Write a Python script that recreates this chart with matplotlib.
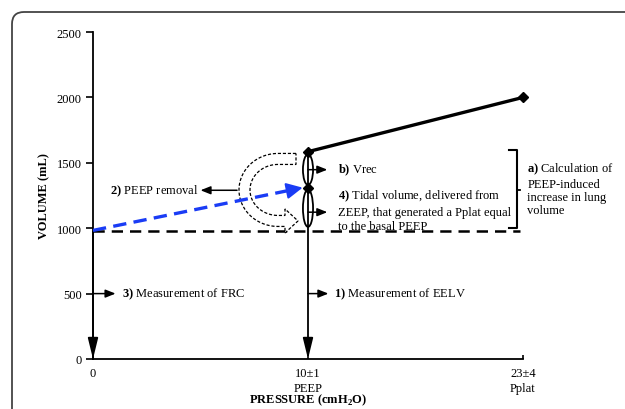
import numpy as np
import matplotlib.pyplot as plt
from matplotlib.patches import Ellipse, Polygon, FancyBboxPatch
from matplotlib.transforms import IdentityTransform

plt.rcParams['font.family'] = ['Liberation Serif', 'DejaVu Serif']
plt.rcParams['mathtext.fontset'] = 'custom'
plt.rcParams['mathtext.rm'] = 'Liberation Serif'
plt.rcParams['mathtext.bf'] = 'Liberation Serif:bold'

# data
pressure_labels = ["0", "10\u00b11\nPEEP", "23\u00b14\nPplat"]
pressure_pos = [0, 1, 2]
frc = 975          # volume at ZEEP
eelv = 1310        # end of tidal volume from ZEEP
peep_vol = 1585    # volume at PEEP
pplat_vol = 2000   # volume at Pplat
measure_level = 500
y_ticks = [0, 500, 1000, 1500, 2000, 2500]

BLUE = "#1a3cf5"

fig = plt.figure(figsize=(6.25, 4.1), dpi=100)
ax = fig.add_axes([93/625, 1-360/410, 430/625, 327/410])
ax.set_xlim(0, 2)
ax.set_ylim(0, 2500)

# PEEP -> Pplat line
ax.plot(pressure_pos[1:], [peep_vol, pplat_vol], color="black", lw=2.4,
        marker="D", ms=5, zorder=4, clip_on=False)
ax.plot([pressure_pos[1]], [eelv], marker="D", ms=5, color="black", zorder=4)

# FRC dashed line
ax.plot([0, 1.985], [frc, frc], color="black", lw=1.8, ls=(0, (4.5, 2.8)))

# vertical lines with arrows down
for x0, ytop in [(pressure_pos[0], frc), (pressure_pos[1], peep_vol)]:
    ax.annotate("", xy=(x0, 0), xytext=(x0, ytop),
                arrowprops=dict(arrowstyle="-|>,head_length=0.9,head_width=0.22",
                                color="black", lw=1.3, mutation_scale=14,
                                shrinkA=0, shrinkB=0))

# ellipses at PEEP
up_c = (eelv + peep_vol) / 2
lo_c = (frc + eelv) / 2
ax.add_patch(Ellipse((1, up_c), 0.047, (peep_vol - eelv) * 0.85, fill=False,
                     ec="black", lw=1.3, zorder=3))
ax.add_patch(Ellipse((1, lo_c + 10), 0.047, (eelv - frc) * 0.85, fill=False,
                     ec="black", lw=1.3, zorder=3))

small = dict(arrowstyle="-|>,head_length=0.5,head_width=0.2", color="black",
             lw=1.1, mutation_scale=12, shrinkA=0, shrinkB=0)
ax.annotate("", xy=(1.09, up_c), xytext=(1.0, up_c), arrowprops=small)
ax.annotate("", xy=(1.09, lo_c - 20), xytext=(1.0, lo_c - 20), arrowprops=small)
ax.annotate("", xy=(0.105, measure_level), xytext=(0, measure_level), arrowprops=small)
ax.annotate("", xy=(1.095, measure_level), xytext=(1.0, measure_level), arrowprops=small)
ax.annotate("", xy=(0.5, 1290), xytext=(0.67, 1290), arrowprops=small)

# blue dashed arrow (PEEP removal)
t = 0.92
ax.plot([0, t], [frc + 8, frc + 8 + (eelv - frc - 8) * t / 0.975],
        color=BLUE, lw=2.4, ls=(0, (4, 2.2)), zorder=5)
ax.annotate("", xy=(0.975, eelv), xytext=(0.9, frc + 8 + (eelv - frc - 8) * 0.9 / 0.975),
            arrowprops=dict(arrowstyle="-|>,head_length=0.7,head_width=0.35",
                            color=BLUE, lw=1.5, mutation_scale=14,
                            shrinkA=0, shrinkB=0), zorder=5)

# curved hollow dashed arrow (built in pixels around a point left of PEEP)
fig.canvas.draw()
cx, cy = ax.transData.transform((1, (eelv + frc) / 2 + 150))
cx -= 30
rxo, ryo, rxi, ryi = 39, 36.5, 28, 25.5
tail_end = cx + 18
head_base = cx + 7
tip = cx + 20
ang = np.linspace(np.pi / 2, 3 * np.pi / 2, 60)
outer = np.column_stack([cx + rxo * np.cos(ang), cy + ryo * np.sin(ang)])
inner = np.column_stack([cx + rxi * np.cos(ang[::-1]), cy + ryi * np.sin(ang[::-1])])
ymid = cy - (ryo + ryi) / 2
pts = np.vstack([
    [[tail_end, cy + ryo]],
    outer,
    [[head_base, cy - ryo], [head_base, ymid - 12], [tip, ymid],
     [head_base, ymid + 12], [head_base, cy - ryi]],
    inner,
    [[tail_end, cy + ryi]],
])
ax.add_patch(Polygon(pts, closed=True, transform=IdentityTransform(),
                     fc="white", ec="black", lw=0.9, ls=(0, (2.5, 1.5)), zorder=2))

# bracket
bx = 1.972
ax.plot([bx - 0.035, bx, bx, bx - 0.035], [peep_vol + 10, peep_vol + 10, 1000, 1000],
        color="black", lw=1.5)
ax.plot([bx, bx + 0.015], [1292, 1292], color="black", lw=1.3)

# texts
fs = 9
ax.text(1.14, up_c, r"$\mathbf{b)}$ Vrec", fontsize=fs, va="center")
ax.text(1.14, 1139, r"$\mathbf{4)}$ Tidal volume, delivered from" "\n"
        "ZEEP, that generated a Pplat equal\nto the basal PEEP",
        fontsize=fs, va="center", linespacing=1.25)
ax.text(0.08, 1290, r"$\mathbf{2)}$ PEEP removal", fontsize=fs, va="center")
ax.text(0.135, measure_level, r"$\mathbf{3)}$ Measurement of FRC", fontsize=fs, va="center")
ax.text(1.12, measure_level, r"$\mathbf{1)}$ Measurement of EELV", fontsize=fs, va="center")
ax.text(2.02, 1303, r"$\mathbf{a)}$ Calculation of" "\nPEEP-induced\nincrease in lung\nvolume",
        fontsize=fs, va="center", linespacing=1.15)

# axes style
for s in ["top", "right"]:
    ax.spines[s].set_visible(False)
for s in ["left", "bottom"]:
    ax.spines[s].set_linewidth(1.3)
ax.set_yticks(y_ticks)
ax.set_xticks(pressure_pos)
ax.set_xticklabels(pressure_labels, fontsize=9, linespacing=1.3)
ax.tick_params(axis="y", direction="out", length=5, width=1.2, labelsize=9, pad=3)
ax.tick_params(axis="x", direction="in", length=3, width=1.2, pad=6)
ax.set_ylabel("VOLUME (mL)", fontsize=9, fontweight="bold", labelpad=5)
ax.set_xlabel(r"PRESSURE (cmH$_\mathbf{2}$O)", fontsize=9, fontweight="bold")
ax.xaxis.label.set_va("center")
ax.xaxis.set_label_coords(0.5, -0.124)

# rounded frame around the figure
fig.patches.append(FancyBboxPatch((12, -30), 660, 410 - 13 + 30,
                                  boxstyle="round,pad=0,rounding_size=12",
                                  transform=IdentityTransform(), fill=False,
                                  ec="#444444", lw=1.3))

fig.savefig("out.png", dpi=100)
